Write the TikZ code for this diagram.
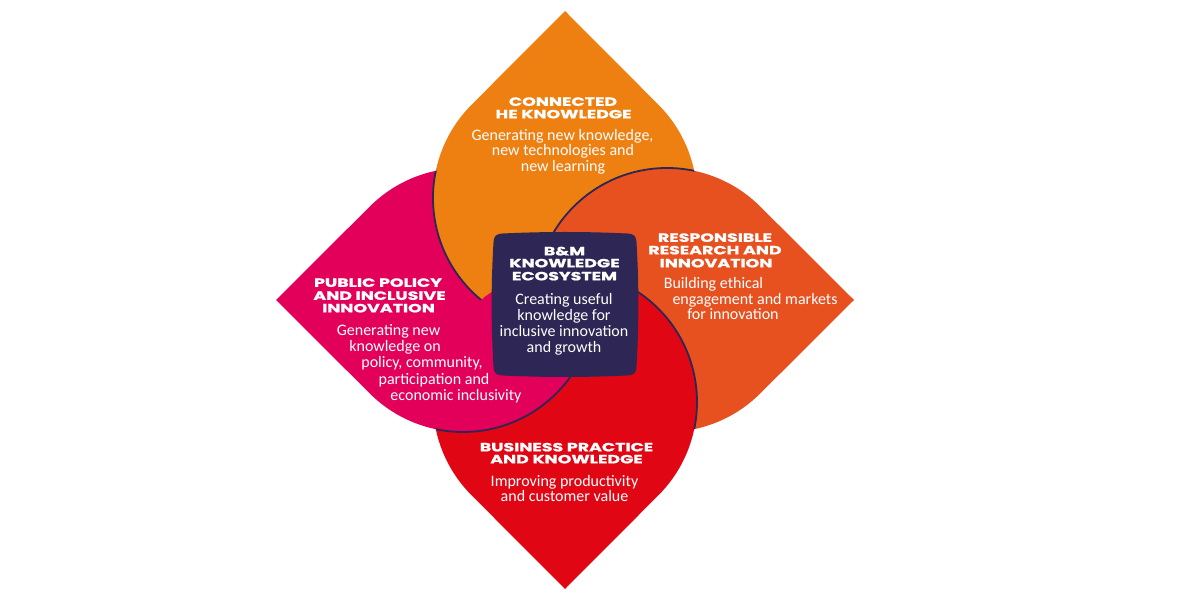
\documentclass[tikz,border=0pt]{standalone}
\usepackage{fontspec}
\setmainfont{Carlito}
\newfontfamily\headfont[FakeStretch=1.45,FakeBold=1.2]{Poppins}
\definecolor{cpink}{HTML}{E2005B}
\definecolor{corange}{HTML}{EE7F11}
\definecolor{cored}{HTML}{E6511F}
\definecolor{cred}{HTML}{E10614}
\definecolor{cnavy}{HTML}{2E2654}
\newcommand\petalpath[1]{({565+289*cos(#1)},{300+289*sin(#1)}) -- ({565+102*cos(#1)+132*cos(#1-45)},{300+102*sin(#1)+132*sin(#1-45)}) arc[start angle={#1-45}, end angle={#1-315}, radius=132] -- cycle}
\tikzset{
  head/.style={font=\headfont\bfseries\fontsize{12}{13}\selectfont, text=white, inner sep=0pt, anchor=mid},
  body/.style={font=\fontsize{16}{16}\selectfont, text=white, inner sep=0pt, anchor=mid},
  edgeline/.style={draw=cnavy, line width=1.8pt},
}
\begin{document}
\begin{tikzpicture}[x=1pt,y=1pt]
\useasboundingbox (0,0) rectangle (1200,600);
% left petal
\fill[cpink] \petalpath{180};
% top petal over left
\fill[corange] \petalpath{90};
\begin{scope}\clip \petalpath{180}; \draw[edgeline] \petalpath{90}; \end{scope}
% right petal over top
\fill[cored] \petalpath{0};
\begin{scope}\clip \petalpath{90}; \draw[edgeline] \petalpath{0}; \end{scope}
% bottom petal over right
\fill[cred] \petalpath{270};
\begin{scope}\clip \petalpath{0}; \draw[edgeline] \petalpath{270}; \end{scope}
% left petal over bottom
\begin{scope}\clip \petalpath{270}; \fill[cpink] \petalpath{180}; \draw[edgeline] \petalpath{180}; \end{scope}
% centre
\begin{scope}[shift={(565,295.5)}]
\fill[cnavy] (-62,71) .. controls (-20,73) and (20,73) .. (62,71)
  .. controls (69,70.5) and (71,69) .. (71.5,62)
  .. controls (74,20) and (74,-20) .. (71.5,-62)
  .. controls (71,-69) and (69,-70.5) .. (62,-71)
  .. controls (20,-73) and (-20,-73) .. (-62,-71)
  .. controls (-69,-70.5) and (-71,-69) .. (-71.5,-62)
  .. controls (-74,-20) and (-74,20) .. (-71.5,62)
  .. controls (-71,69) and (-69,70.5) .. (-62,71) -- cycle;
\end{scope}
% top texts
\node[head] (t1) at (563,496.5) {CONNECTED};
\node[head] (t2) at (563.5,484) {HE KNOWLEDGE};
\node[body] (t3) at (562.5,462) {Generating new knowledge,};
\node[body] (t4) at (563,447) {new technologies and};
\node[body] (t5) at (563,431) {new learning};
% left texts
\node[head] (l1) at (378,315.5) {PUBLIC POLICY};
\node[head] (l2) at (379.5,302.5) {AND INCLUSIVE};
\node[head] (l3) at (378.5,290) {INNOVATION};
\node[body] (l4) at (388.5,267) {Generating new};
\node[body] (l5) at (395,251) {knowledge on};
\node[body] (l6) at (422,235) {policy, community,};
\node[body] (l7) at (434,218) {participation and};
\node[body] (l8) at (456,202) {economic inclusivity};
% right texts
\node[head] (r1) at (715,360.5) {RESPONSIBLE};
\node[head] (r2) at (715,348) {RESEARCH AND};
\node[head] (r3) at (716,335) {INNOVATION};
\node[body] (r4) at (713.5,314) {Building ethical};
\node[body] (r5) at (755,298) {engagement and markets};
\node[body] (r6) at (733,283) {for innovation};
% bottom texts
\node[head] (b1) at (566.5,151) {BUSINESS PRACTICE};
\node[head] (b2) at (566.5,139) {AND KNOWLEDGE};
\node[body] (b3) at (564.5,116) {Improving productivity};
\node[body] (b4) at (564.5,101) {and customer value};
% centre texts
\node[head] (c1) at (564.5,347) {B\&M};
\node[head] (c2) at (564.5,335) {KNOWLEDGE};
\node[head] (c3) at (564.5,322) {ECOSYSTEM};
\node[body] (c4) at (564,298) {Creating useful};
\node[body] (c5) at (564,282) {knowledge for};
\node[body] (c6) at (564,266) {inclusive innovation};
\node[body] (c7) at (564,250) {and growth};
\end{tikzpicture}
\end{document}
